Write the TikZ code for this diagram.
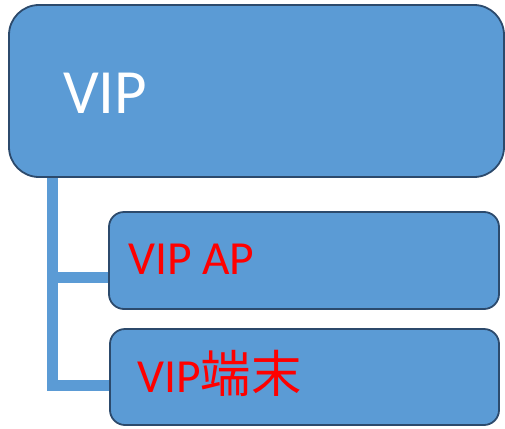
\documentclass[tikz,border=0pt]{standalone}
\usepackage{fontspec}
\setmainfont{Carlito}
\newfontfamily\cjk[Scale=1.06]{Noto Sans CJK JP}
\definecolor{boxfill}{HTML}{5B9BD5}
\definecolor{boxline}{HTML}{2C4A6C}
\begin{document}
\begin{tikzpicture}[x=1pt,y=-1pt,
  boxstyle/.style={draw=boxline, fill=boxfill, line width=1.8pt, inner sep=0pt},
  topbox/.style={boxstyle, rounded corners=30pt},
  childbox/.style={boxstyle, rounded corners=15pt},
  link/.style={draw=boxfill, line width=11pt},
  toptext/.style={anchor=base west, inner sep=0pt, text=white, font=\fontsize{63}{63}\selectfont},
  childtext/.style={anchor=base west, inner sep=0pt, text=red, font=\fontsize{47.5}{47.5}\selectfont}]
\useasboundingbox (0,0) rectangle (505,428);
% trunk start
\coordinate (trunk) at (52,170);
\coordinate (b1) at (109,277);
\coordinate (b2) at (110,385);
\draw[link] (trunk) |- (b1);
\draw[link] (trunk) |- (b2);
% boxes
\draw[topbox] (9,5) rectangle (504,177);
\node[childbox, minimum width=390pt, minimum height=97pt] (c1) at (304,260.5) {};
\node[childbox, minimum width=389pt, minimum height=96pt] (c2) at (304.5,377) {};
\node[toptext] (tvip) at (63,113) {VIP};
\node[childtext] (tap) at (128,274) {VIP AP};
\node[childtext] (tterm) at (137,392) {VIP{\cjk 端末}};
\end{tikzpicture}
\end{document}
